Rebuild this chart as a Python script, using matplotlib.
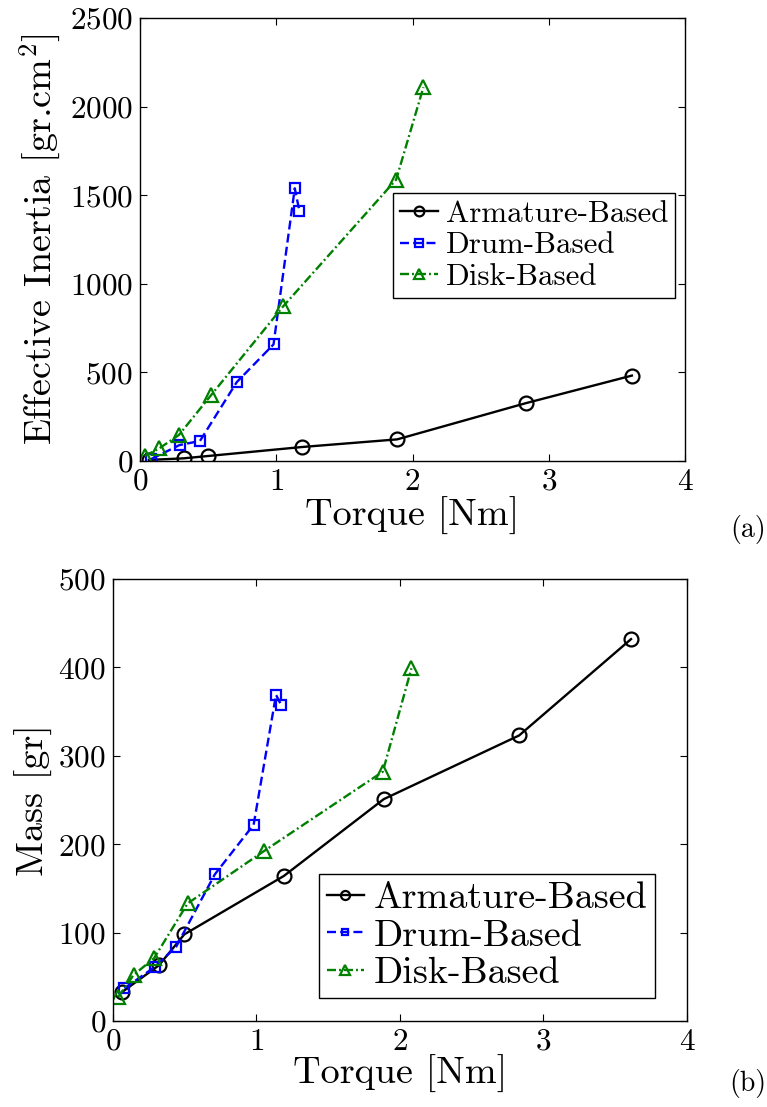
import matplotlib
matplotlib.use("Agg")
import matplotlib.pyplot as plt

plt.rcParams['font.family'] = 'serif'
plt.rcParams['font.serif'] = ['cmr10']
plt.rcParams['mathtext.fontset'] = 'cm'
plt.rcParams['axes.formatter.use_mathtext'] = True
plt.rcParams['axes.unicode_minus'] = False

# torque of each design [Nm]
torque_arm = [0.065, 0.32, 0.497, 1.19, 1.887, 2.83, 3.61]
torque_drum = [0.08, 0.29, 0.44, 0.71, 0.98, 1.136, 1.17]
torque_disk = [0.035, 0.143, 0.286, 0.52, 1.05, 1.88, 2.08]

# (a) effective inertia [gr.cm^2]
inertia_arm = [6, 15, 28, 79, 122, 326, 482]
inertia_drum = [10, 90, 113, 445, 658, 1539, 1410]
inertia_disk = [28, 72, 147, 370, 872, 1588, 2109]

# (b) mass [gr]
mass_arm = [33, 63, 98, 164, 251, 323, 432]
mass_drum = [37, 61, 84, 166, 222, 369, 358]
mass_disk = [27, 52, 71, 133, 192, 282, 399]

labels = ['Armature-Based', 'Drum-Based', 'Disk-Based']

W, H = 767, 1107
fig = plt.figure(figsize=(W / 100, H / 100), dpi=100)

def box(l, t, r, b):
    return [l / W, 1 - b / H, (r - l) / W, (b - t) / H]

ax1 = fig.add_axes(box(140, 18, 685, 461))
ax2 = fig.add_axes(box(113, 579, 687, 1021))

def draw(ax, ys, ylim, yticks):
    ax.plot(torque_arm, ys[0], 'k-', marker='o', mfc='none', ms=10, mew=1.6, lw=1.7, label=labels[0])
    ax.plot(torque_drum, ys[1], color='b', marker='s', mfc='none', ms=7.5, mew=1.6, lw=1.7,
            dashes=(3.8, 1.8), label=labels[1])
    ax.plot(torque_disk, ys[2], color=(0, 0.5, 0), marker='^', mfc='none', ms=10, mew=1.6, lw=1.7,
            dashes=(3.8, 1.3, 0.8, 1.3), label=labels[2])
    ax.set_xlim(0, 4)
    ax.set_ylim(*ylim)
    ax.set_xticks([0, 1, 2, 3, 4])
    ax.set_yticks(yticks)
    ax.tick_params(direction='in', top=True, right=True, length=5, width=0.8, labelsize=22.5, pad=5)
    for s in ax.spines.values():
        s.set_linewidth(1.0)
    ax.set_xlabel('Torque [Nm]', fontsize=27.5)

def shrink(leg, sizes):
    for h, s in zip(leg.legend_handles, sizes):
        h.set_markersize(s)
    leg.get_frame().set_linewidth(1.0)

draw(ax1, [inertia_arm, inertia_drum, inertia_disk], (0, 2500), [0, 500, 1000, 1500, 2000, 2500])
ax1.set_ylabel(r'Effective Inertia [gr.cm$^2$]', fontsize=27.5)
ax1.yaxis.set_label_coords(-0.141, 0.5)
ax1.xaxis.set_label_coords(0.5, -0.081)
leg1 = ax1.legend(loc='upper right', bbox_to_anchor=(0.9817, 0.605), borderaxespad=0,
                  fontsize=22.3, fancybox=False, edgecolor='k', framealpha=1,
                  handlelength=1.23, handletextpad=0.25, labelspacing=0.12, borderpad=0.22)
shrink(leg1, [7, 5.5, 7])

draw(ax2, [mass_arm, mass_drum, mass_disk], (0, 500), [0, 100, 200, 300, 400, 500])
ax2.set_ylabel('Mass [gr]', fontsize=27.5)
ax2.yaxis.set_label_coords(-0.105, 0.5)
ax2.xaxis.set_label_coords(0.5, -0.077)
leg2 = ax2.legend(loc='lower right', bbox_to_anchor=((655 - 113) / 574, (1021 - 997.7) / 442), borderaxespad=0,
                  fontsize=27.5, fancybox=False, edgecolor='k', framealpha=1,
                  handlelength=0.98, handletextpad=0.25, labelspacing=0.1, borderpad=0.2)
shrink(leg2, [6.5, 5, 6.5])

fig.text(748 / W, 1 - 530 / H, '(a)', fontsize=20, ha='center', va='center')
fig.text(748 / W, 1 - 1083 / H, '(b)', fontsize=20, ha='center', va='center')

fig.savefig('out.png', dpi=100)
